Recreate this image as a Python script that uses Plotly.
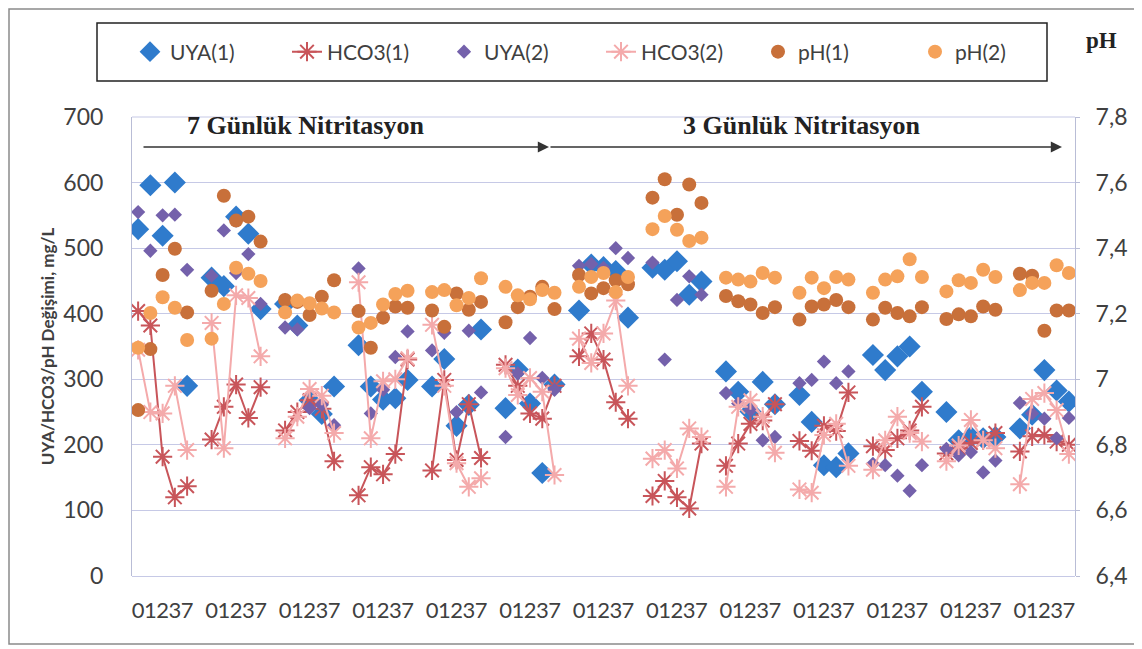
import plotly.graph_objects as go

# ---------------- data ----------------
days = ["0", "1", "2", "3", "7"]
n_groups = 13

uya1 = [529, 596, 519, 600, 290,
        455, 442, 548, 522, 407,
        415, 382, 268, 247, 289,
        352, 289, 269, 271, 299,
        289, 331, 229, 261, 376,
        256, 315, 263, 157, 292,
        405, 475, 471, 465, 394,
        470, 467, 480, 429, 449,
        312, 281, 251, 296, 262,
        276, 235, 169, 166, 187,
        337, 314, 335, 350, 281,
        250, 207, 212, 210, 212,
        225, 246, 314, 283, 266]

uya2 = [555, 496, 550, 551, 467,
        458, 527, 462, 491, 415,
        379, 376, 256, 261, 230,
        469, 248, 284, 334, 373,
        344, 371, 250, 374, 280,
        212, 309, 363, 302, 284,
        473, 476, 470, 500, 485,
        478, 330, 421, 457, 429,
        279, 263, 253, 207, 212,
        294, 299, 327, 294, 312,
        171, 169, 153, 130, 169,
        194, 184, 189, 158, 176,
        264, 248, 240, 210, 241]

hco3_1 = [404, 382, 182, 120, 137,
          208, 258, 292, 241, 288,
          222, 250, 268, 255, 175,
          123, 166, 155, 186, 330,
          161, 299, 177, 262, 180,
          322, 290, 248, 240, 290,
          335, 370, 330, 265, 240,
          122, 145, 120, 103, 202,
          168, 202, 232, 237, 262,
          206, 191, 229, 221, 280,
          198, 192, 210, 222, 258,
          187, 195, 203, 207, 218,
          190, 213, 215, 205, 200]

hco3_2 = [345, 250, 248, 290, 192,
          386, 195, 428, 424, 335,
          210, 243, 285, 275, 218,
          448, 210, 297, 300, 332,
          383, 290, 172, 136, 149,
          317, 276, 302, 281, 154,
          362, 325, 370, 420, 290,
          179, 192, 164, 225, 212,
          136, 258, 268, 243, 188,
          132, 127, 215, 232, 168,
          162, 207, 243, 218, 205,
          175, 199, 238, 207, 195,
          140, 270, 279, 253, 186]

ph1 = [6.906, 7.092, 7.318, 7.398, 7.204,
       7.27, 7.56, 7.484, 7.496, 7.42,
       7.242, 7.236, 7.196, 7.252, 7.302,
       7.208, 7.096, 7.188, 7.222, 7.218,
       7.21, 7.16, 7.262, 7.212, 7.236,
       7.174, 7.22, 7.252, 7.282, 7.214,
       7.318, 7.262, 7.278, 7.302, 7.29,
       7.554, 7.61, 7.502, 7.594, 7.538,
       7.254, 7.238, 7.228, 7.202, 7.22,
       7.182, 7.222, 7.228, 7.242, 7.22,
       7.182, 7.218, 7.202, 7.192, 7.22,
       7.184, 7.198, 7.192, 7.222, 7.212,
       7.322, 7.316, 7.148, 7.21, 7.21]

ph2 = [7.096, 7.202, 7.25, 7.218, 7.12,
       7.124, 7.23, 7.34, 7.322, 7.3,
       7.204, 7.24, 7.232, 7.216, 7.204,
       7.158, 7.172, 7.228, 7.26, 7.27,
       7.266, 7.272, 7.226, 7.248, 7.308,
       7.282, 7.256, 7.244, 7.272, 7.264,
       7.282, 7.312, 7.324, 7.266, 7.312,
       7.458, 7.498, 7.456, 7.422, 7.432,
       7.31, 7.304, 7.298, 7.324, 7.31,
       7.264, 7.31, 7.278, 7.312, 7.304,
       7.264, 7.304, 7.314, 7.366, 7.312,
       7.268, 7.302, 7.294, 7.334, 7.312,
       7.272, 7.294, 7.294, 7.348, 7.324]

right_ticks = [6.4, 6.6, 6.8, 7.0, 7.2, 7.4, 7.6, 7.8]
right_ticktext = ["6,4", "6,6", "6,8", "7", "7,2", "7,4", "7,6", "7,8"]

# ---------------- build positions (one blank category between groups) -------
slot = len(days) + 1


def series(vals):
    xs, ys = [], []
    for g in range(n_groups):
        for i in range(len(days)):
            xs.append(g * slot + i)
            ys.append(vals[g * len(days) + i])
        xs.append(None)
        ys.append(None)
    return xs, ys


tickvals = [g * slot + i for g in range(n_groups) for i in range(len(days))]
ticktext = days * n_groups

C_UYA1 = "#2f7bcc"
C_UYA2 = "#7461ab"
C_H1 = "#c8555a"
C_H2 = "#f4aaab"
C_PH1 = "#c8703a"
C_PH2 = "#f5a25a"

fig = go.Figure()

x, y = series(uya1)
fig.add_trace(go.Scatter(x=x, y=y, mode="markers", name="UYA(1)",
                         marker=dict(symbol="diamond", size=17, color=C_UYA1)))
x, y = series(hco3_1)
fig.add_trace(go.Scatter(x=x, y=y, mode="lines+markers", name="HCO3(1)",
                         line=dict(color=C_H1, width=2),
                         marker=dict(symbol="asterisk-open", size=16,
                                     line=dict(color=C_H1, width=2))))
x, y = series(uya2)
fig.add_trace(go.Scatter(x=x, y=y, mode="markers", name="UYA(2)",
                         marker=dict(symbol="diamond", size=11, color=C_UYA2)))
x, y = series(hco3_2)
fig.add_trace(go.Scatter(x=x, y=y, mode="lines+markers", name="HCO3(2)",
                         line=dict(color=C_H2, width=2),
                         marker=dict(symbol="asterisk-open", size=16,
                                     line=dict(color=C_H2, width=2))))
x, y = series(ph1)
fig.add_trace(go.Scatter(x=x, y=y, mode="markers", name="pH(1)", yaxis="y2",
                         marker=dict(symbol="circle", size=14, color=C_PH1)))
x, y = series(ph2)
fig.add_trace(go.Scatter(x=x, y=y, mode="markers", name="pH(2)", yaxis="y2",
                         marker=dict(symbol="circle", size=14, color=C_PH2)))

# page coordinates: the figure div sits 8px in from the page's top-left corner
OFF = 8
PAGE_W, PAGE_H = 1142, 649
W, H = PAGE_W - OFF, PAGE_H - OFF
PLOT_L, PLOT_R, PLOT_T, PLOT_B = 132, 1075, 117, 576   # plot area in page px
L, R, T, B = PLOT_L - OFF, PAGE_W - PLOT_R, PLOT_T - OFF, PAGE_H - PLOT_B
PW, PH = PLOT_R - PLOT_L, PLOT_B - PLOT_T


def px(xp):
    return (xp - PLOT_L) / PW


def py(yp):
    return (PLOT_B - yp) / PH


GRID = "#c6c9e6"
TXT = "#404040"

fig.update_layout(
    width=W, height=H,
    margin=dict(l=L, r=R, t=T, b=B, pad=0, autoexpand=False),
    paper_bgcolor="white", plot_bgcolor="white",
    font=dict(family="Lato, sans-serif", color=TXT),
    showlegend=True,
    legend=dict(orientation="h", x=px(130), xanchor="left", y=py(52), yanchor="middle",
                font=dict(size=21, color=TXT, family="Lato, sans-serif"),
                bgcolor="rgba(0,0,0,0)", borderwidth=0, entrywidth=112,
                entrywidthmode="pixels", itemsizing="trace"),
    xaxis=dict(range=[-0.5, n_groups * slot - 1.5], tickmode="array",
               tickvals=tickvals, ticktext=ticktext, tickangle=0, showgrid=False,
               zeroline=False, showline=False, ticks="", automargin=False,
               tickfont=dict(size=22, color=TXT), ticklabelstandoff=19),
    yaxis=dict(range=[0, 700], dtick=100, showgrid=True, gridcolor=GRID, gridwidth=1,
               zeroline=True, zerolinecolor=GRID, zerolinewidth=1, automargin=False,
               showline=True, linecolor="#b9bdd6", linewidth=1, ticks="",
               tickfont=dict(size=23, color=TXT), ticklabelstandoff=23,
               title=dict(text="<b>UYA/HCO3/pH Değişimi, mg/L</b>",
                          font=dict(size=17, color=TXT), standoff=4)),
    yaxis2=dict(range=[6.4, 7.8], overlaying="y", side="right", tickmode="array",
                tickvals=right_ticks, ticktext=right_ticktext, showgrid=False,
                zeroline=False, showline=True, linecolor="#b9bdd6", linewidth=1,
                ticks="outside", ticklen=4, tickcolor="#b9bdd6", automargin=False,
                tickfont=dict(size=23, color=TXT), ticklabelstandoff=11),
)

shapes = [
    # outer frame
    dict(type="rect", xref="paper", yref="paper", x0=px(9), x1=px(1139), y0=py(644), y1=py(9),
         line=dict(color="#8a8a8a", width=1.5), fillcolor="rgba(0,0,0,0)", layer="below"),
    # legend box
    dict(type="rect", xref="paper", yref="paper", x0=px(97), x1=px(1047), y0=py(81), y1=py(23),
         line=dict(color="#222222", width=1.5), fillcolor="rgba(0,0,0,0)"),
    # top gridline
    dict(type="line", xref="paper", yref="paper", x0=0, x1=1, y0=1, y1=1,
         line=dict(color=GRID, width=1), layer="below"),
]
fig.update_layout(shapes=shapes)

ANN_FONT = dict(family="Liberation Serif, Times New Roman, serif", size=26, color="#222222")
annotations = [
    dict(xref="paper", yref="paper", x=px(305), y=py(125), xanchor="center", yanchor="middle",
         text="<b>7 Günlük Nitritasyon</b>", showarrow=False, font=ANN_FONT),
    dict(xref="paper", yref="paper", x=px(801), y=py(125), xanchor="center", yanchor="middle",
         text="<b>3 Günlük Nitritasyon</b>", showarrow=False, font=ANN_FONT),
    dict(xref="paper", yref="paper", x=px(1101), y=py(40), xanchor="center", yanchor="middle",
         text="<b>pH</b>", showarrow=False,
         font=dict(family="Liberation Serif, serif", size=23, color="#222222")),
    dict(xref="paper", yref="paper", x=px(549), y=py(147), ax=-(549 - 142), ay=0,
         axref="pixel", ayref="pixel", text="", showarrow=True, arrowhead=2,
         arrowsize=1.4, arrowwidth=1.6, arrowcolor="#333333"),
    dict(xref="paper", yref="paper", x=px(1062), y=py(147), ax=-(1062 - 549), ay=0,
         axref="pixel", ayref="pixel", text="", showarrow=True, arrowhead=2,
         arrowsize=1.4, arrowwidth=1.6, arrowcolor="#333333"),
]
fig.update_layout(annotations=annotations)

fig.write_html("out.html")
